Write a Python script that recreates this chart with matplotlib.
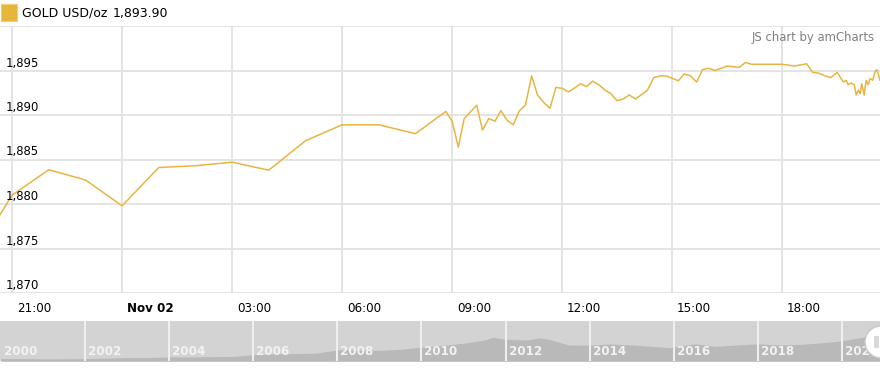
import matplotlib
matplotlib.use('Agg')
import matplotlib.pyplot as plt
import matplotlib.patches as mpatches
import matplotlib.transforms as mtrans

plt.rcParams['font.family'] = 'DejaVu Sans'

# hours relative to Nov 02 00:00
hours = [-3.33, -3.0, -2.0, -1.0, 0.0, 1.0, 2.0, 3.0, 4.0, 5.0,
         6.0, 7.0, 8.0, 8.83, 9.0, 9.17, 9.33, 9.67, 9.83, 10.0,
         10.17, 10.33, 10.5, 10.67, 10.83, 11.0, 11.17, 11.33, 11.5, 11.67,
         11.83, 12.0, 12.17, 12.33, 12.5, 12.67, 12.83, 13.0, 13.17, 13.33,
         13.5, 13.67, 13.83, 14.0, 14.17, 14.33, 14.5, 14.67, 14.83, 15.17,
         15.33, 15.5, 15.67, 15.83, 16.0, 16.17, 16.5, 16.83, 17.0, 17.17,
         18.0, 18.33, 18.67, 18.83, 19.0, 19.17, 19.33, 19.5, 19.67, 19.75,
         19.8, 19.88, 19.97, 20.02, 20.08, 20.13, 20.17, 20.24, 20.29, 20.35,
         20.4, 20.47, 20.54, 20.58, 20.63, 20.67]
prices = [1878.8, 1881.0, 1883.85, 1882.7, 1879.8, 1884.1, 1884.3, 1884.7, 1883.8, 1887.1,
          1888.9, 1888.9, 1887.9, 1890.4, 1889.3, 1886.4, 1889.6, 1891.1, 1888.3, 1889.6,
          1889.3, 1890.5, 1889.4, 1888.9, 1890.45, 1891.1, 1894.4, 1892.25, 1891.4, 1890.75,
          1893.1, 1893.0, 1892.6, 1893.0, 1893.5, 1893.2, 1893.8, 1893.4, 1892.8, 1892.4,
          1891.6, 1891.8, 1892.25, 1891.8, 1892.3, 1892.8, 1894.2, 1894.4, 1894.4, 1893.85,
          1894.6, 1894.4, 1893.7, 1895.1, 1895.25, 1895.0, 1895.5, 1895.35, 1895.9, 1895.7,
          1895.7, 1895.5, 1895.75, 1894.8, 1894.7, 1894.4, 1894.2, 1894.8, 1893.7, 1893.9,
          1893.4, 1893.6, 1893.4, 1892.25, 1892.8, 1892.4, 1893.5, 1892.25, 1893.9, 1893.4,
          1894.1, 1893.9, 1894.9, 1895.1, 1894.5, 1893.9]

tick_hours = [-3, 0, 3, 6, 9, 12, 15, 18]
tick_labels = ['21:00', 'Nov 02', '03:00', '06:00', '09:00', '12:00', '15:00', '18:00']
y_ticks = [1870, 1875, 1880, 1885, 1890, 1895]

# long term series shown in the scrollbar
scroll_years = [2000.0, 2000.5, 2001.0, 2001.5, 2002.0, 2002.5, 2003.0, 2003.5, 2004.0, 2004.5,
                2005.0, 2005.5, 2006.0, 2006.5, 2007.0, 2007.5, 2008.0, 2008.5, 2009.0, 2009.5,
                2010.0, 2010.5, 2011.0, 2011.5, 2011.7, 2012.0, 2012.5, 2012.8, 2013.0, 2013.5,
                2014.0, 2014.5, 2015.0, 2015.5, 2015.9, 2016.5, 2017.0, 2017.5, 2018.0, 2018.5,
                2019.0, 2019.5, 2020.0, 2020.5, 2020.6, 2020.9]
scroll_prices = [285, 285, 265, 270, 280, 315, 355, 350, 410, 395,
                 425, 430, 550, 630, 640, 670, 900, 900, 860, 940,
                 1100, 1220, 1370, 1600, 1800, 1650, 1600, 1750, 1670, 1250,
                 1240, 1320, 1250, 1150, 1060, 1330, 1150, 1250, 1330, 1250,
                 1290, 1400, 1550, 1800, 1950, 1880]
scroll_labels = [2000, 2002, 2004, 2006, 2008, 2010, 2012, 2014, 2016, 2018, 2020]

gold = '#E8B540'
grid_c = '#e2e2e2'
W, H = 880, 369

fig = plt.figure(figsize=(W / 100, H / 100), dpi=100)
ax = fig.add_axes([0, (H - 293) / H, 1, (293 - 26) / H])
ax.set_xlim(-3.33, 20.67)
ax.set_ylim(1870, 1900)
for s in ax.spines.values():
    s.set_visible(False)
ax.set_xticks([])
ax.set_yticks([])

for v in y_ticks + [1900]:
    ax.axhline(v, color=grid_c, lw=1.3, zorder=1)
for h in tick_hours:
    ax.axvline(h, color=grid_c, lw=1.3, zorder=1)

ax.plot(hours, prices, color=gold, lw=1.1, zorder=3)

for v in y_ticks:
    ax.annotate('{:,}'.format(v), xy=(0, v), xycoords=('axes fraction', 'data'),
                xytext=(6, 1), textcoords='offset pixels', ha='left', va='bottom',
                fontsize=8.4, color='#000000')

for h, lab in zip(tick_hours, tick_labels):
    ax.annotate(lab, xy=(h, 0), xycoords=('data', 'axes fraction'),
                xytext=(5, -15), textcoords='offset pixels', ha='left', va='center',
                fontsize=8.6, color='#000000',
                fontweight='bold' if lab.startswith('Nov') else 'normal',
                annotation_clip=False)

# watermark
fig.text(875 / W, 1 - 37 / H, 'JS chart by amCharts', ha='right', va='center',
         fontsize=8.4, color='#808080')

# legend
ident = mtrans.IdentityTransform()
fig.add_artist(mpatches.Rectangle((1, H - 21), 16, 17, transform=ident,
                                  facecolor='#E6B53A', edgecolor='#F0CF7A', lw=0.8))
fig.text(22 / W, 1 - 13 / H, 'GOLD USD/oz', ha='left', va='center',
         fontsize=9, color='#000000')
fig.text(113 / W, 1 - 13 / H, '1,893.90', ha='left', va='center',
         fontsize=9, color='#000000')

# scrollbar
sc = fig.add_axes([0, (H - 361.3) / H, 1, 40 / H])
sc.set_facecolor('#d3d3d3')
sc.set_xlim(1999.98, 2020.9)
sc.set_ylim(90, 2930)
for s in sc.spines.values():
    s.set_visible(False)
sc.set_xticks([])
sc.set_yticks([])
sc.fill_between(scroll_years, 90, scroll_prices, color='#b9b9b9', lw=0, zorder=1)
for yr in scroll_labels:
    if yr > 2000:
        sc.axvline(yr, color='#efefef', lw=1.5, zorder=2)
    sc.annotate(str(yr), xy=(yr, 0), xycoords=('data', 'axes fraction'),
                xytext=(3, 10), textcoords='offset pixels', ha='left', va='center',
                fontsize=8.6, fontweight='bold', color='#f2f2f2', zorder=3)

# grip handle
fig.add_artist(mpatches.Circle((881, H - 342), 16, transform=ident,
                               facecolor='white', edgecolor='#c8c8c8', lw=1))
fig.add_artist(mpatches.Rectangle((874, H - 348), 5, 12, transform=ident,
                                  facecolor='#d8d8d8', edgecolor='none'))

fig.savefig('out.png', dpi=100)
